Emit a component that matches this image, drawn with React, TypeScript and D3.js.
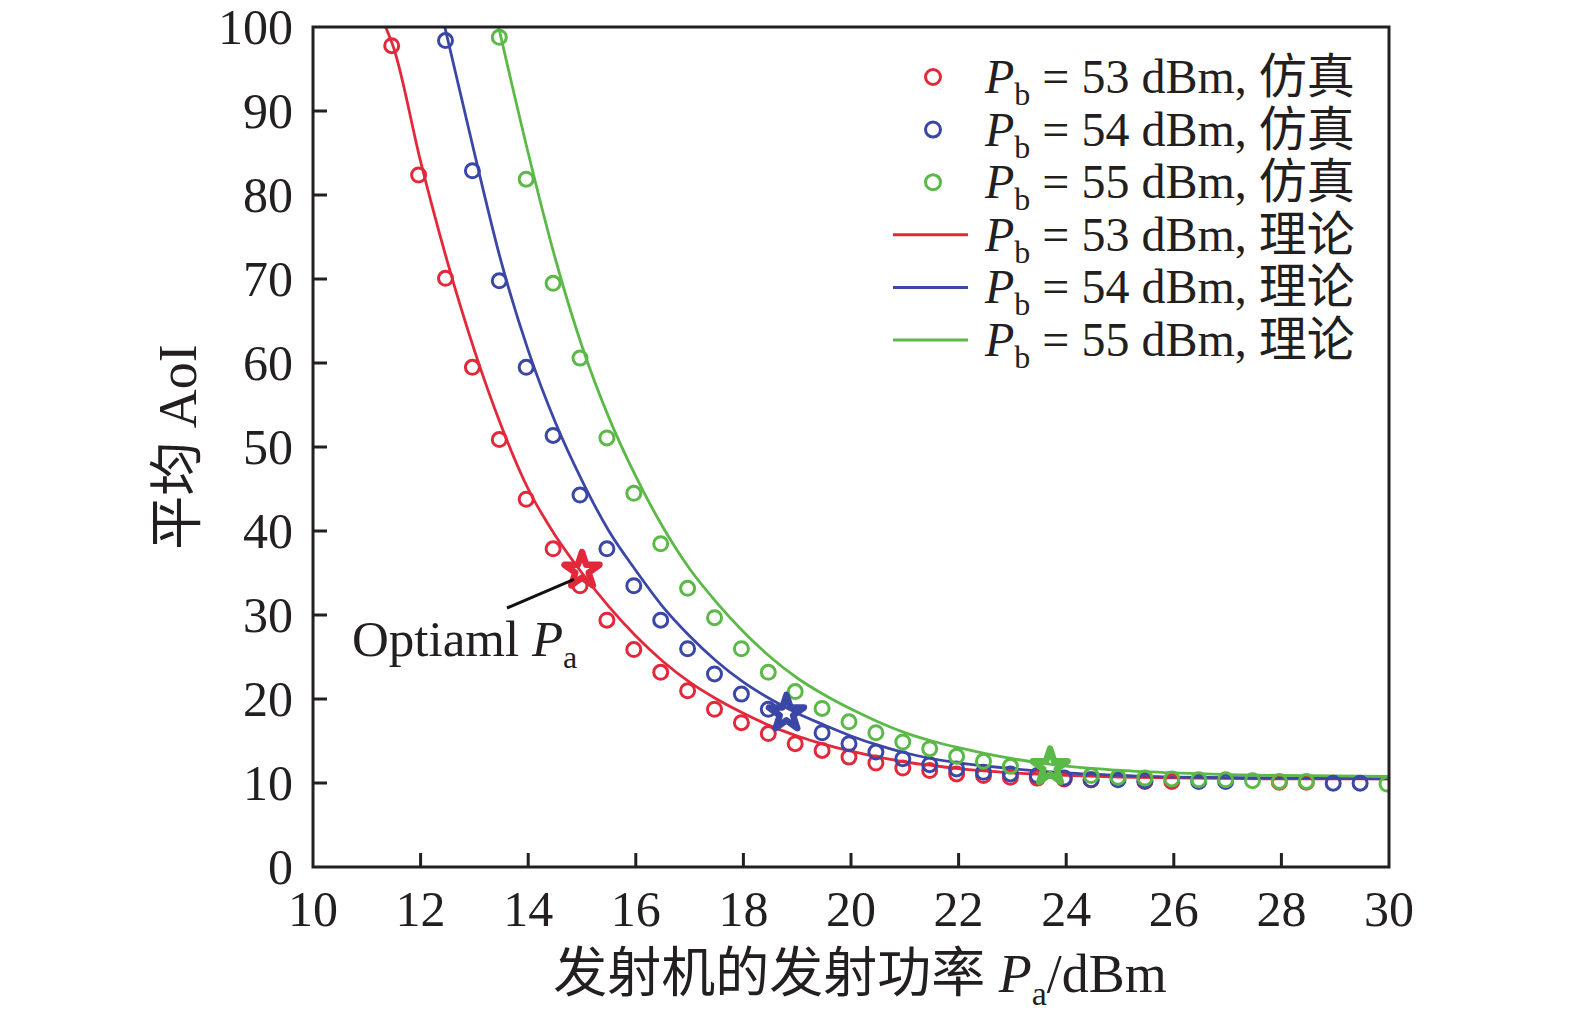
import React, { useEffect, useRef } from "react";
import * as d3 from "d3";

// theoretical curves (x = Pa in dBm, y = average AoI)
const theoryX = [11.35, 11.5, 12, 12.5, 13, 13.5, 14, 14.5, 15, 15.5, 16, 16.5, 17, 17.5, 18, 18.5, 19, 19.5, 20, 20.5, 21, 21.5, 22, 23, 24, 25, 26, 28, 30];
const theory53 = [100, 97.5, 84, 72, 61.5, 52.5, 45, 39.5, 35, 31, 27.5, 24.5, 22, 20, 18.3, 16.8, 15.6, 14.6, 13.8, 13.1, 12.5, 12.1, 11.7, 11.2, 10.9, 10.7, 10.6, 10.5, 10.5];
const theoryX54 = [12.45, 13, 13.5, 14, 14.5, 15, 15.5, 16, 16.5, 17, 17.5, 18, 18.5, 19, 19.5, 20, 20.5, 21, 21.5, 22, 23, 24, 25, 26, 28, 30];
const theory54 = [100, 85, 72, 61.5, 53, 46, 40, 35.3, 31, 27.5, 24.5, 22, 20, 18.3, 16.9, 15.6, 14.5, 13.6, 12.9, 12.4, 11.7, 11.2, 10.9, 10.7, 10.6, 10.5];
const theoryX55 = [13.45, 14, 14.5, 15, 15.5, 16, 16.5, 17, 17.5, 18, 18.5, 19, 19.5, 20, 20.5, 21, 21.5, 22, 22.5, 23, 24, 25, 26, 27, 28, 30];
const theory55 = [100, 85, 72.5, 62, 53.5, 46.5, 40.5, 35.5, 31.5, 28, 25, 22.5, 20.5, 18.8, 17.3, 16, 15, 14.2, 13.5, 12.9, 12, 11.5, 11.2, 11, 10.9, 10.8];

// simulation points
const simX53 = [11.5, 12, 12.5, 13, 13.5, 14, 14.5, 15, 15.5, 16, 16.5, 17, 17.5, 18, 18.5, 19, 19.5, 20, 20.5, 21, 21.5, 22, 22.5, 23, 23.5, 24, 24.5, 25.5, 26, 28, 28.5];
const sim53 = [97.9, 82.5, 70.2, 59.6, 51, 43.9, 38, 33.6, 29.5, 26, 23.3, 21.1, 18.9, 17.3, 16, 14.8, 14, 13.2, 12.5, 11.9, 11.6, 11.2, 11, 10.8, 10.7, 10.6, 10.5, 10.3, 10.3, 10.2, 10.2];
const simX54 = [12.5, 13, 13.5, 14, 14.5, 15, 15.5, 16, 16.5, 17, 17.5, 18, 18.5, 19.5, 20, 20.5, 21, 21.5, 22, 22.5, 23, 23.5, 24, 24.5, 25, 25.5, 26.5, 27, 29, 29.5];
const sim54 = [98.5, 83, 69.9, 59.6, 51.5, 44.4, 38, 33.6, 29.5, 26.1, 23.1, 20.7, 18.9, 16.1, 14.8, 13.8, 13, 12.3, 11.8, 11.4, 11.2, 11, 10.7, 10.5, 10.5, 10.4, 10.3, 10.3, 10.1, 10.1];
const simX55 = [13.5, 14, 14.5, 15, 15.5, 16, 16.5, 17, 17.5, 18, 18.5, 19, 19.5, 20, 20.5, 21, 21.5, 22, 22.5, 23, 24.5, 25, 25.5, 26, 26.5, 27, 27.5, 28, 28.5, 30];
const sim55 = [98.9, 82, 69.6, 60.7, 51.2, 44.6, 38.6, 33.3, 29.8, 26.1, 23.3, 21, 19, 17.4, 16.1, 15, 14.2, 13.3, 12.7, 12.1, 11, 10.8, 10.7, 10.6, 10.5, 10.5, 10.4, 10.3, 10.3, 10];

// optimal points (stars)
const optX = [15, 18.8, 23.7];
const optY = [35.3, 18.3, 11.9];

const powers = ["53", "54", "55"];
const colors = ["#e2283a", "#3a47a6", "#5bb947"];
const xTicks = [10, 12, 14, 16, 18, 20, 22, 24, 26, 28, 30];
const yTicks = [0, 10, 20, 30, 40, 50, 60, 70, 80, 90, 100];

const W = 1575;
const H = 1027;
const serif = "'Liberation Serif', 'Times New Roman', 'Noto Sans CJK SC', serif";
const ink = "#231f20";

export default function App() {
  const svgRef = useRef<SVGSVGElement | null>(null);

  useEffect(() => {
    const svg = d3.select(svgRef.current);
    svg.selectAll("*").remove();

    const left = 313, right = 1389, top = 27, bottom = 867;
    const x = d3.scaleLinear().domain([10, 30]).range([left, right]);
    const y = d3.scaleLinear().domain([0, 100]).range([bottom, top]);

    svg.append("defs").append("clipPath").attr("id", "plotclip")
      .append("rect").attr("x", left).attr("y", top).attr("width", right - left).attr("height", bottom - top);

    const theory = [
      { xs: theoryX, ys: theory53 },
      { xs: theoryX54, ys: theory54 },
      { xs: theoryX55, ys: theory55 },
    ];
    const sims = [
      { xs: simX53, ys: sim53 },
      { xs: simX54, ys: sim54 },
      { xs: simX55, ys: sim55 },
    ];

    const plot = svg.append("g").attr("clip-path", "url(#plotclip)");
    const line = d3.line<[number, number]>()
      .x((d) => x(d[0]))
      .y((d) => y(d[1]))
      .curve(d3.curveMonotoneX);

    theory.forEach((s, i) => {
      plot.append("path")
        .datum(s.xs.map((v, j) => [v, s.ys[j]] as [number, number]))
        .attr("d", line)
        .attr("fill", "none")
        .attr("stroke", colors[i])
        .attr("stroke-width", 2.8);
    });

    sims.forEach((s, i) => {
      plot.append("g").selectAll("circle")
        .data(s.xs.map((v, j) => [v, s.ys[j]]))
        .join("circle")
        .attr("cx", (d) => x(d[0]) - 2)
        .attr("cy", (d) => y(d[1]) + 1)
        .attr("r", 7)
        .attr("fill", "none")
        .attr("stroke", colors[i])
        .attr("stroke-width", 3);
    });

    const star = d3.symbol().type(d3.symbolStar).size(380);
    optX.forEach((v, i) => {
      svg.append("path")
        .attr("d", star()!)
        .attr("transform", `translate(${x(v)},${y(optY[i])})`)
        .attr("fill", "none")
        .attr("stroke", colors[i])
        .attr("stroke-width", 6.5)
        .attr("stroke-linejoin", "round");
    });

    // annotation
    svg.append("line")
      .attr("x1", 507).attr("y1", 608)
      .attr("x2", x(optX[0]) - 8).attr("y2", y(optY[0]) + 9)
      .attr("stroke", "#111").attr("stroke-width", 3);
    const ann = svg.append("text").attr("x", 352).attr("y", 656)
      .attr("font-family", serif).attr("font-size", 51).attr("fill", ink);
    ann.append("tspan").text("Optiaml ");
    ann.append("tspan").attr("font-style", "italic").text("P");
    ann.append("tspan").attr("font-size", 32).attr("dy", 12).text("a");

    // frame
    svg.append("rect")
      .attr("x", left).attr("y", top).attr("width", right - left).attr("height", bottom - top)
      .attr("fill", "none").attr("stroke", ink).attr("stroke-width", 3);

    // x ticks
    const xt = svg.append("g");
    xTicks.forEach((t) => {
      if (t !== 10 && t !== 30) {
        xt.append("line").attr("x1", x(t)).attr("x2", x(t)).attr("y1", bottom).attr("y2", bottom - 14)
          .attr("stroke", ink).attr("stroke-width", 3);
      }
      xt.append("text").attr("x", x(t)).attr("y", 926).attr("text-anchor", "middle")
        .attr("font-family", serif).attr("font-size", 50).attr("fill", ink).text(t);
    });

    // y ticks
    const yt = svg.append("g");
    yTicks.forEach((t) => {
      if (t !== 0 && t !== 100) {
        yt.append("line").attr("x1", left).attr("x2", left + 14).attr("y1", y(t)).attr("y2", y(t))
          .attr("stroke", ink).attr("stroke-width", 3);
      }
      yt.append("text").attr("x", 293).attr("y", y(t)).attr("dy", "0.34em").attr("text-anchor", "end")
        .attr("font-family", serif).attr("font-size", 50).attr("fill", ink).text(t);
    });

    // axis titles
    svg.append("text")
      .attr("transform", "translate(196,447) rotate(-90)")
      .attr("text-anchor", "middle")
      .attr("font-family", serif).attr("font-size", 54).attr("fill", ink)
      .text("平均 AoI");

    const xl = svg.append("text").attr("x", 860).attr("y", 992).attr("text-anchor", "middle")
      .attr("font-family", serif).attr("font-size", 54).attr("fill", ink);
    xl.append("tspan").text("发射机的发射功率 ");
    xl.append("tspan").attr("font-style", "italic").text("P");
    xl.append("tspan").attr("font-size", 34).attr("dy", 13).text("a");
    xl.append("tspan").attr("dy", -13).text("/dBm");

    // legend
    const legendRows = [
      ...powers.map((p, i) => ({ p, c: colors[i], kind: "sim", label: "仿真" })),
      ...powers.map((p, i) => ({ p, c: colors[i], kind: "theory", label: "理论" })),
    ];
    const lg = svg.append("g");
    legendRows.forEach((r, i) => {
      const cy = 77 + i * 52.6;
      if (r.kind === "sim") {
        lg.append("circle").attr("cx", 933).attr("cy", cy).attr("r", 7.5)
          .attr("fill", "none").attr("stroke", r.c).attr("stroke-width", 3);
      } else {
        lg.append("line").attr("x1", 893).attr("x2", 968).attr("y1", cy).attr("y2", cy)
          .attr("stroke", r.c).attr("stroke-width", 3);
      }
      const t = lg.append("text").attr("x", 985).attr("y", cy + 16)
        .attr("font-family", serif).attr("font-size", 48).attr("fill", ink);
      t.append("tspan").attr("font-style", "italic").text("P");
      t.append("tspan").attr("font-size", 32).attr("dy", 12).text("b");
      t.append("tspan").attr("dy", -12).text(` = ${r.p} dBm, ${r.label}`);
    });
  }, []);

  return (
    <svg
      ref={svgRef}
      width={W}
      height={H}
      style={{ position: "absolute", left: 0, top: 0, background: "#fff" }}
    />
  );
}
